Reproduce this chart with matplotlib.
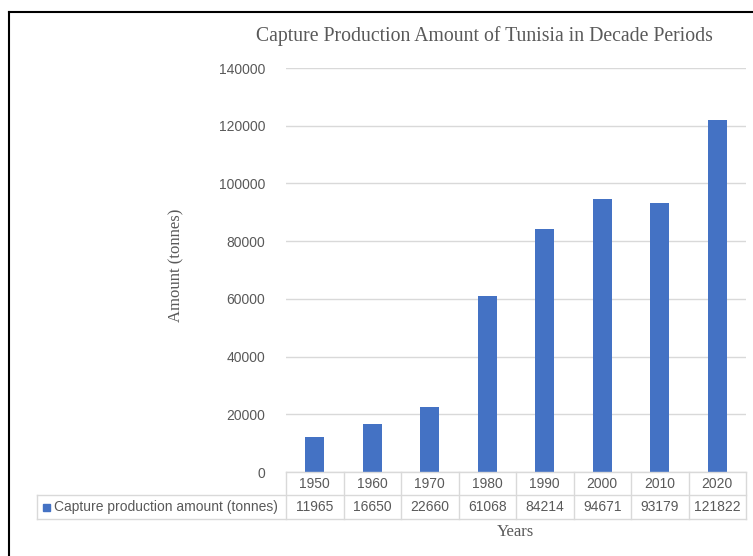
import matplotlib
matplotlib.use('Agg')
import matplotlib.pyplot as plt
from matplotlib.lines import Line2D
from matplotlib.patches import Rectangle
import matplotlib.transforms as mtransforms

years = ['1950', '1960', '1970', '1980', '1990', '2000', '2010', '2020']
amounts = [11965, 16650, 22660, 61068, 84214, 94671, 93179, 121822]
series_name = 'Capture production amount (tonnes)'
yticks = [0, 20000, 40000, 60000, 80000, 100000, 120000, 140000]

W, H = 753, 556
BAR = '#4472C4'
GRID = '#D9D9D9'
TXT = '#595959'


def fx(px):
    return px / W


def fy(py):
    return 1 - py / H


fig = plt.figure(figsize=(W / 100, H / 100), dpi=100, facecolor='white')
ax = fig.add_axes([fx(286), fy(472), fx(746) - fx(286), fy(68) - fy(472)])

x = list(range(len(years)))
ax.bar(x, amounts, width=0.33, color=BAR, zorder=3)
ax.set_xlim(-0.5, len(years) - 0.5)
ax.set_ylim(0, 140000)
ax.set_yticks(yticks)
ax.set_yticklabels([str(v) for v in yticks], fontsize=10, color=TXT,
                   family='Liberation Sans')
ax.tick_params(axis='y', length=0, pad=15)
ax.set_xticks([])
ax.grid(axis='y', color=GRID, linewidth=1, zorder=0)
for s in ax.spines.values():
    s.set_visible(False)

# data table under the plot
trans = mtransforms.blended_transform_factory(ax.transData, fig.transFigure)
y0, y1, y2 = fy(472), fy(495), fy(519)
for i in range(len(years) + 1):
    fig.add_artist(Line2D([i - 0.5, i - 0.5], [y0, y2], transform=trans,
                          color=GRID, lw=1))
fig.add_artist(Line2D([fx(286), fx(746)], [y0, y0], color=GRID, lw=1))
fig.add_artist(Line2D([fx(37), fx(746)], [y1, y1], color=GRID, lw=1))
fig.add_artist(Line2D([fx(37), fx(746)], [y2, y2], color=GRID, lw=1))
fig.add_artist(Line2D([fx(37), fx(37)], [y1, y2], color=GRID, lw=1))
for i, (yr, v) in enumerate(zip(years, amounts)):
    fig.text(i, (y0 + y1) / 2, yr, transform=trans, ha='center', va='center',
             fontsize=10, color=TXT, family='Liberation Sans')
    fig.text(i, (y1 + y2) / 2, str(v), transform=trans, ha='center',
             va='center', fontsize=10, color=TXT, family='Liberation Sans')
fig.add_artist(Rectangle((fx(43), fy(511)), fx(7), fy(504) - fy(511),
                         transform=fig.transFigure, color=BAR))
fig.text(fx(54), (y1 + y2) / 2, series_name, ha='left', va='center',
         fontsize=10, color=TXT, family='Liberation Sans')

fig.text(fx(484), fy(36), 'Capture Production Amount of Tunisia in Decade Periods',
         ha='center', va='center', fontsize=14.2, color=TXT,
         family='Liberation Serif')
fig.text(fx(176), fy(265), 'Amount (tonnes)', rotation=90, ha='center',
         va='center', fontsize=12, color=TXT, family='Liberation Serif')
fig.text(fx(515), fy(532), 'Years', ha='center', va='center', fontsize=12,
         color=TXT, family='Liberation Serif')

# outer frame (only top and left visible in the crop)
fig.add_artist(Line2D([fx(8.5), fx(753)], [fy(11.5), fy(11.5)], color='black', lw=1.5))
fig.add_artist(Line2D([fx(8.5), fx(8.5)], [fy(11.5), fy(556)], color='black', lw=1.5))

fig.savefig('out.png', dpi=100, facecolor='white')
